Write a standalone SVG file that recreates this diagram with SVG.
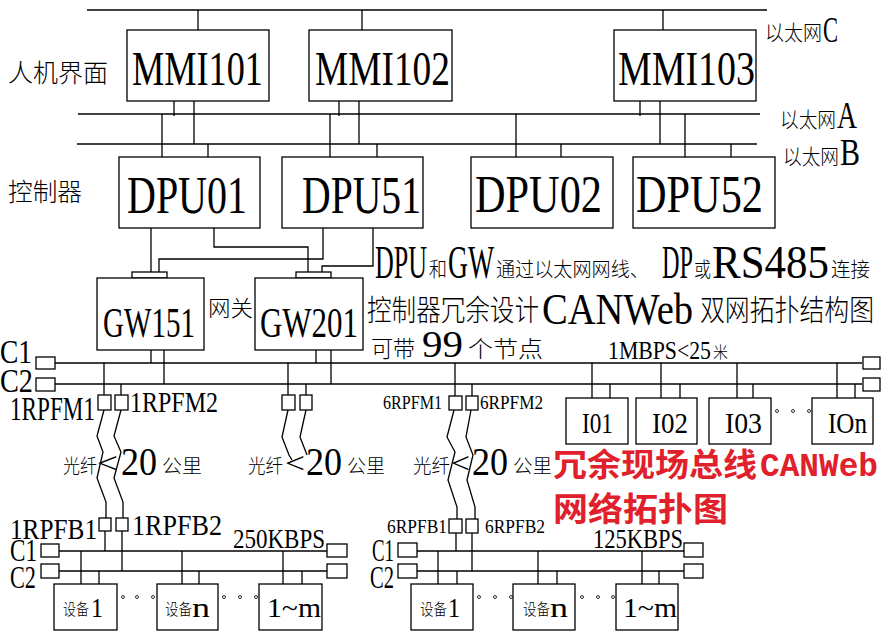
<svg xmlns="http://www.w3.org/2000/svg" width="884" height="640" viewBox="0 0 884 640">
<style>
.bg{fill:#fff}
.b{fill:#fff;stroke:#000;stroke-width:1.3}
.w{stroke:#000;stroke-width:1.3;fill:none}
.s{font-family:"Liberation Serif","Noto Serif",serif;fill:#000}
.c{font-family:"Noto Sans CJK SC","Noto Sans",sans-serif;fill:#000;font-weight:300}
.r{font-family:"Noto Sans CJK SC",sans-serif;fill:#e0202a;font-weight:bold}
.rm{font-family:"Liberation Mono",monospace;fill:#e0202a;font-weight:bold}
.d{fill:#fff;stroke:#000;stroke-width:0.8}
</style>
<rect class="bg" x="0" y="0" width="884" height="640"/>

<g id="connectors" class="w">
<line x1="87" y1="10" x2="767" y2="10"/>
<line x1="78" y1="114" x2="760" y2="114"/>
<line x1="77" y1="144" x2="757" y2="144"/>
<line x1="198" y1="10" x2="198" y2="30"/>
<line x1="362" y1="10" x2="362" y2="30"/>
<line x1="663" y1="10" x2="663" y2="30"/>
<line x1="174" y1="101" x2="174" y2="116"/>
<line x1="194" y1="101" x2="194" y2="144"/>
<line x1="339" y1="101" x2="339" y2="116"/>
<line x1="359" y1="101" x2="359" y2="144"/>
<line x1="640" y1="101" x2="640" y2="116"/>
<line x1="660" y1="101" x2="660" y2="144"/>
<line x1="162" y1="114" x2="162" y2="157"/>
<line x1="208" y1="144" x2="208" y2="157"/>
<line x1="330" y1="114" x2="330" y2="157"/>
<line x1="377" y1="144" x2="377" y2="157"/>
<line x1="516" y1="114" x2="516" y2="157"/>
<line x1="561" y1="144" x2="561" y2="157"/>
<line x1="685" y1="114" x2="685" y2="157"/>
<line x1="731" y1="144" x2="731" y2="157"/>
<polyline points="151,228 151,272"/>
<polyline points="214,228 214,247 308,247 308,272"/>
<polyline points="323,228 323,259 159,259 159,272"/>
<polyline points="373,228 373,266 322,266 322,272"/>
<line x1="55" y1="363" x2="862" y2="363"/>
<line x1="55" y1="384" x2="862" y2="384"/>
<line x1="151" y1="350" x2="151" y2="363"/>
<line x1="164" y1="350" x2="164" y2="384"/>
<line x1="316" y1="350" x2="316" y2="363"/>
<line x1="331" y1="350" x2="331" y2="384"/>
<line x1="104" y1="363" x2="104" y2="395"/>
<line x1="121" y1="384" x2="121" y2="395"/>
<line x1="288" y1="363" x2="288" y2="395"/>
<line x1="306" y1="384" x2="306" y2="395"/>
<line x1="455" y1="363" x2="455" y2="396"/>
<line x1="472" y1="384" x2="472" y2="396"/>
<line x1="592" y1="363" x2="592" y2="398"/>
<line x1="610" y1="384" x2="610" y2="398"/>
<line x1="661" y1="363" x2="661" y2="398"/>
<line x1="680" y1="384" x2="680" y2="398"/>
<line x1="737" y1="363" x2="737" y2="398"/>
<line x1="753" y1="384" x2="753" y2="398"/>
<line x1="837" y1="363" x2="837" y2="398"/>
<line x1="855" y1="384" x2="855" y2="398"/>
<polyline points="104,410 97,436 103,452 97,478 106,502 106,518"/>
<polyline points="121,410 114,436 121,452 114,478 123,502 123,518"/>
<polyline points="288,410 282,437 289,455 292,460"/>
<polyline points="306,410 300,437 307,455"/>
<polyline points="454,410 447,437 455,452 448,480 457,507 457,519"/>
<polyline points="471,410 466,437 473,455 467,480 475,507 475,519"/>
<line x1="59" y1="551" x2="327" y2="551"/>
<line x1="59" y1="571" x2="327" y2="571"/>
<line x1="105" y1="531" x2="105" y2="551"/>
<line x1="122" y1="531" x2="122" y2="571"/>
<line x1="81" y1="551" x2="81" y2="584"/>
<line x1="99" y1="571" x2="99" y2="584"/>
<line x1="182" y1="551" x2="182" y2="584"/>
<line x1="199" y1="571" x2="199" y2="584"/>
<line x1="283" y1="551" x2="283" y2="584"/>
<line x1="302" y1="571" x2="302" y2="584"/>
<line x1="417" y1="551" x2="684" y2="551"/>
<line x1="417" y1="571" x2="684" y2="571"/>
<line x1="456" y1="533" x2="456" y2="551"/>
<line x1="472" y1="533" x2="472" y2="571"/>
<line x1="438" y1="551" x2="438" y2="584"/>
<line x1="457" y1="571" x2="457" y2="584"/>
<line x1="538" y1="551" x2="538" y2="584"/>
<line x1="557" y1="571" x2="557" y2="584"/>
<line x1="642" y1="551" x2="642" y2="584"/>
<line x1="659" y1="571" x2="659" y2="584"/>
</g>

<g id="labels">
<text class="c" x="8" y="82" font-size="25" textLength="100" lengthAdjust="spacingAndGlyphs">人机界面</text>
<text class="c" x="8" y="201" font-size="25" textLength="74" lengthAdjust="spacingAndGlyphs">控制器</text>
<text class="c" x="765" y="40" font-size="21" textLength="57" lengthAdjust="spacingAndGlyphs">以太网</text>
<text class="s" x="823" y="42" font-size="36" textLength="15" lengthAdjust="spacingAndGlyphs">C</text>
<text class="c" x="780" y="127" font-size="21" textLength="56" lengthAdjust="spacingAndGlyphs">以太网</text>
<text class="s" x="837" y="128" font-size="38" textLength="20" lengthAdjust="spacingAndGlyphs">A</text>
<text class="c" x="783" y="164" font-size="21" textLength="56" lengthAdjust="spacingAndGlyphs">以太网</text>
<text class="s" x="840" y="165" font-size="38" textLength="20" lengthAdjust="spacingAndGlyphs">B</text>
<text class="c" x="208" y="316" font-size="22" textLength="45" lengthAdjust="spacingAndGlyphs">网关</text>
<text class="s" x="375" y="278" font-size="46" textLength="52" lengthAdjust="spacingAndGlyphs">DPU</text>
<text class="c" x="429" y="277" font-size="20" textLength="18" lengthAdjust="spacingAndGlyphs">和</text>
<text class="s" x="448" y="278" font-size="46" textLength="46" lengthAdjust="spacingAndGlyphs">GW</text>
<text class="c" x="496" y="277" font-size="20" textLength="153" lengthAdjust="spacingAndGlyphs">通过以太网网线、</text>
<text class="s" x="662" y="278" font-size="46" textLength="31" lengthAdjust="spacingAndGlyphs">DP</text>
<text class="c" x="694" y="277" font-size="20" textLength="17" lengthAdjust="spacingAndGlyphs">或</text>
<text class="s" x="712" y="278" font-size="46" textLength="117" lengthAdjust="spacingAndGlyphs">RS485</text>
<text class="c" x="831" y="277" font-size="20" textLength="39" lengthAdjust="spacingAndGlyphs">连接</text>
<text class="c" x="367" y="321" font-size="29" textLength="172" lengthAdjust="spacingAndGlyphs">控制器冗余设计</text>
<text class="s" x="542" y="324" font-size="44" textLength="151" lengthAdjust="spacingAndGlyphs">CANWeb</text>
<text class="c" x="700" y="321" font-size="29" textLength="174" lengthAdjust="spacingAndGlyphs">双网拓扑结构图</text>
<text class="c" x="371" y="357" font-size="23" textLength="44" lengthAdjust="spacingAndGlyphs">可带</text>
<text class="s" x="422" y="357" font-size="37" textLength="41" lengthAdjust="spacingAndGlyphs">99</text>
<text class="c" x="468" y="357" font-size="23" textLength="75" lengthAdjust="spacingAndGlyphs">个节点</text>
<text class="s" x="608" y="359" font-size="25" textLength="103" lengthAdjust="spacingAndGlyphs">1MBPS&lt;25</text>
<text class="c" x="713" y="358" font-size="16" textLength="15" lengthAdjust="spacingAndGlyphs">米</text>
<text class="s" x="0" y="363" font-size="34" textLength="32" lengthAdjust="spacingAndGlyphs">C1</text>
<text class="s" x="0" y="392" font-size="34" textLength="33" lengthAdjust="spacingAndGlyphs">C2</text>
<text class="s" x="10" y="420" font-size="34" textLength="85" lengthAdjust="spacingAndGlyphs">1RPFM1</text>
<text class="s" x="130" y="412" font-size="29" textLength="88" lengthAdjust="spacingAndGlyphs">1RPFM2</text>
<text class="s" x="383" y="409" font-size="18" textLength="59" lengthAdjust="spacingAndGlyphs">6RPFM1</text>
<text class="s" x="480" y="409" font-size="18" textLength="63" lengthAdjust="spacingAndGlyphs">6RPFM2</text>
<text class="c" x="63" y="473" font-size="19" textLength="34" lengthAdjust="spacingAndGlyphs">光纤</text>
<text class="s" x="97" y="473" font-size="30" textLength="21" lengthAdjust="spacingAndGlyphs">&lt;</text>
<text class="s" x="121" y="475" font-size="40" textLength="36" lengthAdjust="spacingAndGlyphs">20</text>
<text class="c" x="162" y="473" font-size="19" textLength="40" lengthAdjust="spacingAndGlyphs">公里</text>
<text class="c" x="248" y="473" font-size="19" textLength="35" lengthAdjust="spacingAndGlyphs">光纤</text>
<text class="s" x="285" y="473" font-size="30" textLength="20" lengthAdjust="spacingAndGlyphs">&lt;</text>
<text class="s" x="306" y="475" font-size="40" textLength="36" lengthAdjust="spacingAndGlyphs">20</text>
<text class="c" x="347" y="473" font-size="19" textLength="38" lengthAdjust="spacingAndGlyphs">公里</text>
<text class="c" x="413" y="473" font-size="19" textLength="37" lengthAdjust="spacingAndGlyphs">光纤</text>
<text class="s" x="451" y="473" font-size="30" textLength="19" lengthAdjust="spacingAndGlyphs">&lt;</text>
<text class="s" x="472" y="475" font-size="40" textLength="36" lengthAdjust="spacingAndGlyphs">20</text>
<text class="c" x="513" y="473" font-size="19" textLength="39" lengthAdjust="spacingAndGlyphs">公里</text>
<text class="r" x="553" y="476" font-size="32" textLength="204" lengthAdjust="spacingAndGlyphs">冗余现场总线</text>
<text class="rm" x="760" y="476" font-size="33" textLength="118" lengthAdjust="spacingAndGlyphs">CANWeb</text>
<text class="r" x="553" y="521" font-size="33" textLength="175" lengthAdjust="spacingAndGlyphs">网络拓扑图</text>
<text class="s" x="10" y="539" font-size="30" textLength="87" lengthAdjust="spacingAndGlyphs">1RPFB1</text>
<text class="s" x="132" y="535" font-size="30" textLength="90" lengthAdjust="spacingAndGlyphs">1RPFB2</text>
<text class="s" x="233" y="548" font-size="27" textLength="92" lengthAdjust="spacingAndGlyphs">250KBPS</text>
<text class="s" x="10" y="561" font-size="32" textLength="27" lengthAdjust="spacingAndGlyphs">C1</text>
<text class="s" x="10" y="588" font-size="32" textLength="26" lengthAdjust="spacingAndGlyphs">C2</text>
<text class="s" x="387" y="533" font-size="19" textLength="60" lengthAdjust="spacingAndGlyphs">6RPFB1</text>
<text class="s" x="485" y="533" font-size="19" textLength="60" lengthAdjust="spacingAndGlyphs">6RPFB2</text>
<text class="s" x="593" y="548" font-size="27" textLength="90" lengthAdjust="spacingAndGlyphs">125KBPS</text>
<text class="s" x="372" y="561" font-size="32" textLength="22" lengthAdjust="spacingAndGlyphs">C1</text>
<text class="s" x="370" y="588" font-size="32" textLength="24" lengthAdjust="spacingAndGlyphs">C2</text>
</g>

<g id="terminators">
<rect class="b" x="36" y="357" width="19" height="12"/>
<rect class="b" x="36" y="378" width="19" height="13"/>
<rect class="b" x="863" y="357" width="17" height="12"/>
<rect class="b" x="863" y="378" width="17" height="13"/>
<rect class="b" x="41" y="544" width="18" height="13"/>
<rect class="b" x="41" y="564" width="18" height="14"/>
<rect class="b" x="327" y="544" width="20" height="13"/>
<rect class="b" x="327" y="564" width="20" height="14"/>
<rect class="b" x="398" y="543" width="19" height="14"/>
<rect class="b" x="398" y="564" width="19" height="14"/>
<rect class="b" x="684" y="543" width="19" height="14"/>
<rect class="b" x="684" y="564" width="19" height="14"/>
</g>

<g id="fiber-modules">
<rect class="b" x="98" y="395" width="13" height="15"/>
<rect class="b" x="115" y="395" width="13" height="15"/>
<rect class="b" x="282" y="395" width="13" height="15"/>
<rect class="b" x="300" y="395" width="12" height="15"/>
<rect class="b" x="449" y="396" width="13" height="14"/>
<rect class="b" x="466" y="396" width="12" height="14"/>
<rect class="b" x="99" y="518" width="12" height="13"/>
<rect class="b" x="116" y="518" width="12" height="13"/>
<rect class="b" x="449" y="519" width="13" height="14"/>
<rect class="b" x="466" y="519" width="12" height="14"/>
</g>

<g id="MMI101"><rect class="b" x="127" y="30" width="142" height="71"/><text class="s" x="132" y="85" font-size="48" textLength="131" lengthAdjust="spacingAndGlyphs">MMI101</text></g>
<g id="MMI102"><rect class="b" x="309" y="30" width="143" height="71"/><text class="s" x="315" y="85" font-size="48" textLength="135" lengthAdjust="spacingAndGlyphs">MMI102</text></g>
<g id="MMI103"><rect class="b" x="614" y="30" width="142" height="71"/><text class="s" x="618" y="85" font-size="48" textLength="137" lengthAdjust="spacingAndGlyphs">MMI103</text></g>

<g id="DPU01"><rect class="b" x="119" y="157" width="141" height="71"/><text class="s" x="127" y="213" font-size="52" textLength="120" lengthAdjust="spacingAndGlyphs">DPU01</text></g>
<g id="DPU51"><rect class="b" x="282" y="157" width="141" height="71"/><text class="s" x="302" y="213" font-size="52" textLength="119" lengthAdjust="spacingAndGlyphs">DPU51</text></g>
<g id="DPU02"><rect class="b" x="471" y="157" width="142" height="71"/><text class="s" x="475" y="212" font-size="52" textLength="127" lengthAdjust="spacingAndGlyphs">DPU02</text></g>
<g id="DPU52"><rect class="b" x="633" y="157" width="142" height="71"/><text class="s" x="636" y="212" font-size="52" textLength="127" lengthAdjust="spacingAndGlyphs">DPU52</text></g>

<g id="GW151"><rect class="b" x="132" y="272" width="35" height="6"/><rect class="b" x="97" y="278" width="107" height="72"/><text class="s" x="103" y="337" font-size="43" textLength="92" lengthAdjust="spacingAndGlyphs">GW151</text></g>
<g id="GW201"><rect class="b" x="296" y="272" width="35" height="6"/><rect class="b" x="255" y="278" width="108" height="72"/><text class="s" x="260" y="337" font-size="43" textLength="98" lengthAdjust="spacingAndGlyphs">GW201</text></g>

<g id="IO1"><rect class="b" x="566" y="398" width="62" height="46"/><text class="s" x="582" y="433" font-size="29" textLength="31" lengthAdjust="spacingAndGlyphs">I01</text></g>
<g id="IO2"><rect class="b" x="636" y="398" width="61" height="46"/><text class="s" x="652" y="433" font-size="29" textLength="36" lengthAdjust="spacingAndGlyphs">I02</text></g>
<g id="IO3"><rect class="b" x="709" y="398" width="62" height="46"/><text class="s" x="725" y="433" font-size="29" textLength="37" lengthAdjust="spacingAndGlyphs">I03</text></g>
<g id="IOn"><rect class="b" x="812" y="398" width="61" height="46"/><text class="s" x="828" y="433" font-size="29" textLength="39" lengthAdjust="spacingAndGlyphs">IOn</text></g>
<g id="io-dots"><circle class="d" cx="777" cy="411" r="1.5"/><circle class="d" cx="793" cy="411" r="1.5"/><circle class="d" cx="809" cy="411" r="1.5"/></g>

<g id="L-dev1"><rect class="b" x="54" y="584" width="63" height="46"/><text class="c" x="63" y="615" font-size="16" textLength="26" lengthAdjust="spacingAndGlyphs">设备</text><text class="s" x="91" y="617" font-size="28" textLength="12" lengthAdjust="spacingAndGlyphs">1</text></g>
<g id="L-devn"><rect class="b" x="157" y="584" width="61" height="46"/><text class="c" x="165" y="615" font-size="16" textLength="27" lengthAdjust="spacingAndGlyphs">设备</text><text class="s" x="192" y="617" font-size="28" textLength="18" lengthAdjust="spacingAndGlyphs">n</text></g>
<g id="L-dev1m"><rect class="b" x="259" y="584" width="63" height="46"/><text class="s" x="267" y="617" font-size="28" textLength="54" lengthAdjust="spacingAndGlyphs">1~m</text></g>
<g id="L-dots"><circle class="d" cx="123" cy="597" r="1.5"/><circle class="d" cx="137" cy="597" r="1.5"/><circle class="d" cx="153" cy="597" r="1.5"/><circle class="d" cx="224" cy="597" r="1.5"/><circle class="d" cx="240" cy="597" r="1.5"/><circle class="d" cx="256" cy="597" r="1.5"/></g>

<g id="R-dev1"><rect class="b" x="411" y="584" width="62" height="46"/><text class="c" x="420" y="615" font-size="16" textLength="27" lengthAdjust="spacingAndGlyphs">设备</text><text class="s" x="448" y="617" font-size="28" textLength="12" lengthAdjust="spacingAndGlyphs">1</text></g>
<g id="R-devn"><rect class="b" x="513" y="584" width="62" height="46"/><text class="c" x="523" y="615" font-size="16" textLength="27" lengthAdjust="spacingAndGlyphs">设备</text><text class="s" x="550" y="617" font-size="28" textLength="18" lengthAdjust="spacingAndGlyphs">n</text></g>
<g id="R-dev1m"><rect class="b" x="616" y="584" width="62" height="46"/><text class="s" x="623" y="617" font-size="28" textLength="54" lengthAdjust="spacingAndGlyphs">1~m</text></g>
<g id="R-dots"><circle class="d" cx="479" cy="597" r="1.5"/><circle class="d" cx="495" cy="597" r="1.5"/><circle class="d" cx="511" cy="597" r="1.5"/><circle class="d" cx="582" cy="597" r="1.5"/><circle class="d" cx="598" cy="597" r="1.5"/><circle class="d" cx="613" cy="597" r="1.5"/></g>
</svg>
